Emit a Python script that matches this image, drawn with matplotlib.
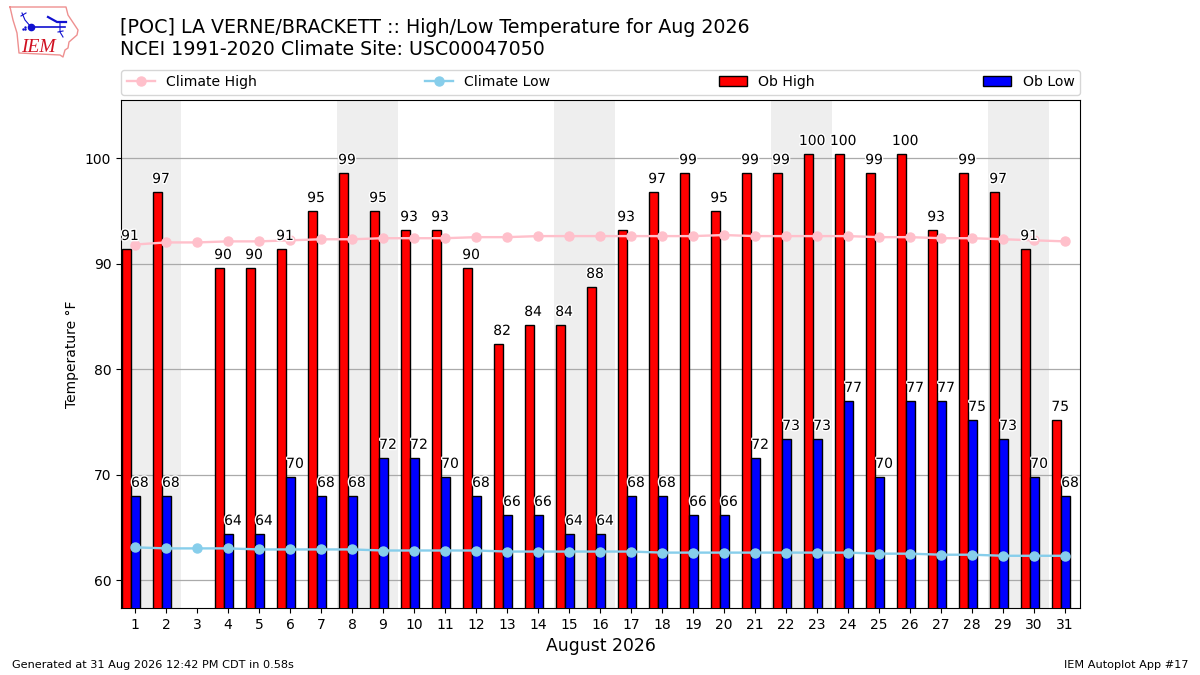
import matplotlib
matplotlib.use("Agg")
import matplotlib.patheffects as pe
import matplotlib.pyplot as plt
import numpy as np

DAYS = list(range(1, 32))
# bars are whole C converted to F, hence the tenths; day 3 has no observation
OB_HIGH = [91.4, 96.8, np.nan, 89.6, 89.6, 91.4, 95.0, 98.6, 95.0, 93.2, 93.2, 89.6, 82.4, 84.2, 84.2, 87.8,
           93.2, 96.8, 98.6, 95.0, 98.6, 98.6, 100.4, 100.4, 98.6, 100.4, 93.2, 98.6, 96.8, 91.4, 75.2]
OB_LOW = [68.0, 68.0, np.nan, 64.4, 64.4, 69.8, 68.0, 68.0, 71.6, 71.6, 69.8, 68.0, 66.2, 66.2, 64.4, 64.4,
          68.0, 68.0, 66.2, 66.2, 71.6, 73.4, 73.4, 77.0, 69.8, 77.0, 77.0, 75.2, 73.4, 69.8, 68.0]
CLIMATE_HIGH = [91.8, 92.0, 92.0, 92.1, 92.1, 92.2, 92.3, 92.3, 92.4, 92.4, 92.4, 92.5, 92.5, 92.6, 92.6, 92.6,
                92.6, 92.6, 92.6, 92.7, 92.6, 92.6, 92.6, 92.6, 92.5, 92.5, 92.4, 92.4, 92.3, 92.2, 92.1]
CLIMATE_LOW = [63.1, 63.0, 63.0, 63.0, 62.9, 62.9, 62.9, 62.9, 62.8, 62.8, 62.8, 62.8, 62.7, 62.7, 62.7, 62.7,
               62.7, 62.6, 62.6, 62.6, 62.6, 62.6, 62.6, 62.6, 62.5, 62.5, 62.4, 62.4, 62.3, 62.3, 62.3]
WEEKEND_STARTS = [1, 8, 15, 22, 29]

TITLE = "[POC] LA VERNE/BRACKETT :: High/Low Temperature for Aug 2026\nNCEI 1991-2020 Climate Site: USC00047050"

BAR_WIDTH = 0.29
HALO = [pe.withStroke(linewidth=2, foreground="white")]

# rough trace of the IEM logo, in figure pixels
IOWA_X = [10, 66, 68, 72, 78, 77, 69, 68, 65, 63, 60, 19, 17, 13, 10]
IOWA_Y = [7, 7, 15, 21, 30, 35, 42, 48, 50, 57, 55, 53, 33, 20, 7]
LOGO_BLUE = "#1010d0"


def draw_logo(fig):
    ax = fig.add_axes([0, 0, 1, 1], facecolor="none", zorder=5)
    ax.set_xlim(0, 1200)
    ax.set_ylim(675, 0)
    ax.axis("off")
    ax.plot(IOWA_X, IOWA_Y, color="#ee9090", lw=1)
    ax.plot([31, 65], [27, 27], color=LOGO_BLUE, lw=1.2)
    ax.plot([22, 25, 31], [13, 20, 27], color=LOGO_BLUE, lw=0.8)
    ax.plot([21, 26], [16, 13], color=LOGO_BLUE, lw=0.8)
    ax.plot([48, 57, 66], [17, 22, 22], color=LOGO_BLUE, lw=1.6)
    ax.plot([60, 60, 63], [22, 32, 37], color=LOGO_BLUE, lw=0.8)
    ax.plot([58, 63], [32, 31], color=LOGO_BLUE, lw=0.8)
    ax.plot([31], [27], "o", color=LOGO_BLUE, ms=4.5)
    ax.plot([23, 25, 25], [29, 27, 29], ".", color=LOGO_BLUE, ms=1.5)
    ax.text(21, 52, "IEM", color="#d01020", family="Liberation Serif", style="italic", fontsize=14)


def main():
    days = np.array(DAYS)
    high = np.array(OB_HIGH)
    low = np.array(OB_LOW)

    fig = plt.figure(figsize=(12, 6.75), dpi=100)
    ax = fig.add_axes([121 / 1200, 1 - 608 / 675, 959 / 1200, 508 / 675])

    for start in WEEKEND_STARTS:
        ax.axvspan(start - 0.48, start + 1.48, color="#eeeeee", lw=0, zorder=0)
    ax.grid(True, axis="y", color="#aaaaaa", lw=0.9, zorder=1)
    ax.set_axisbelow(True)

    ax.plot(days, CLIMATE_HIGH, color="pink", marker="o", lw=1.7, ms=6.5, label="Climate High", zorder=4)
    ax.plot(days, CLIMATE_LOW, color="skyblue", marker="o", lw=1.7, ms=6.5, label="Climate Low", zorder=4)
    ax.bar(days - 0.43, high, BAR_WIDTH, align="edge", color="red", edgecolor="k", lw=1, label="Ob High", zorder=3)
    ax.bar(days - 0.14, low, BAR_WIDTH, align="edge", color="blue", edgecolor="k", lw=1, label="Ob Low", zorder=3)

    for day, hi, lo in zip(DAYS, OB_HIGH, OB_LOW):
        if np.isnan(hi):
            continue
        ax.text(day - 0.16, hi + 0.55, f"{hi:.0f}", ha="center", va="bottom",
                fontsize=10, path_effects=HALO, zorder=5)
        ax.text(day + 0.16, lo + 0.55, f"{lo:.0f}", ha="center", va="bottom",
                fontsize=10, path_effects=HALO, zorder=5)

    ax.set_xlim(0.55, 31.48)
    ax.set_ylim(57.35, 105.5)
    ax.set_xticks(DAYS)
    ax.set_yticks([60, 70, 80, 90, 100])
    ax.set_xlabel("August 2026", fontsize=12.4)
    ax.set_ylabel("Temperature °F", fontsize=10)

    ax.legend(loc="lower left", bbox_to_anchor=(0, 1.01, 1, 0.05), mode="expand", ncol=4,
              borderaxespad=0, fontsize=10.1)

    fig.text(120 / 1200, 1 - 59 / 675, TITLE, fontsize=13.67, ha="left", va="bottom", linespacing=1.2)
    fig.text(12 / 1200, 1 - 665 / 675, "Generated at 31 Aug 2026 12:42 PM CDT in 0.58s", fontsize=8.15, va="center")
    fig.text(1188 / 1200, 1 - 665 / 675, "IEM Autoplot App #17", fontsize=8.1, ha="right", va="center")

    draw_logo(fig)
    fig.savefig("out.png", dpi=100)


if __name__ == "__main__":
    main()
